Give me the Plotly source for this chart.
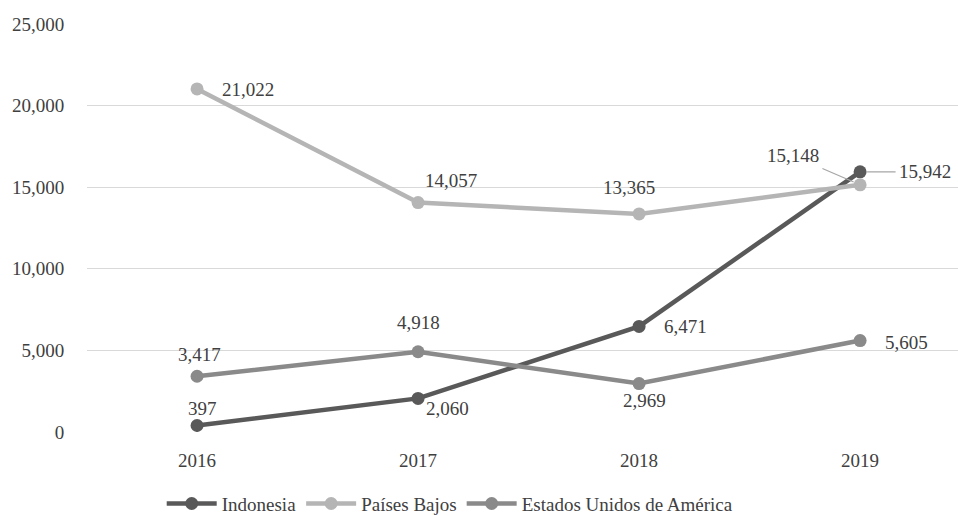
import plotly.graph_objects as go

years = ["2016", "2017", "2018", "2019"]
series_names = ["Indonesia", "Países Bajos", "Estados Unidos de América"]
indonesia = [397, 2060, 6471, 15942]
paises_bajos = [21022, 14057, 13365, 15148]
estados_unidos = [3417, 4918, 2969, 5605]
y_ticks = [0, 5000, 10000, 15000, 20000, 25000]

colors = ["#595959", "#b5b5b5", "#8a8a8a"]
values = [indonesia, paises_bajos, estados_unidos]

# label offsets in pixels (dx, dy up); "lead" -> leader-line annotation (ax, ay)
label_offsets = [
    [(5, 17), (29, -10), (46, 0), ("lead", 65, 0)],
    [(51, -1), (33, 22), (-10, 26), ("lead", -67, -29)],
    [(2, 22), (0, 29), (5, -17), (46, -2)],
]

FONT = "Liberation Serif"
TXT = "#404040"

fig = go.Figure()
for name, vals, col in zip(series_names, values, colors):
    fig.add_trace(go.Scatter(
        x=years, y=vals, name=name, mode="lines+markers",
        line=dict(color=col, width=4.5),
        marker=dict(color=col, size=13),
    ))

annotations = []
for vals, offs in zip(values, label_offsets):
    for i, (v, off) in enumerate(zip(vals, offs)):
        txt = f"{v:,}"
        if off[0] == "lead":
            annotations.append(dict(
                x=i, y=v, xref="x", yref="y", text=txt, showarrow=True,
                ax=off[1], ay=off[2], arrowhead=0, arrowwidth=1.2,
                arrowcolor="#a6a6a6", standoff=7, startstandoff=2,
                font=dict(family=FONT, size=19, color=TXT),
            ))
        else:
            annotations.append(dict(
                x=i, y=v, xref="x", yref="y", text=txt, showarrow=False,
                xshift=off[0], yshift=off[1],
                font=dict(family=FONT, size=19, color=TXT),
            ))

fig.update_layout(
    width=958, height=515,
    margin=dict(l=87, r=0, t=24, b=83, autoexpand=False),
    paper_bgcolor="white", plot_bgcolor="white",
    font=dict(family=FONT, size=19, color=TXT),
    showlegend=True,
    legend=dict(orientation="h", x=0.417, xanchor="center",
                yref="container", y=0.022, yanchor="middle",
                font=dict(family=FONT, size=19, color=TXT), itemwidth=50),
    annotations=annotations,
    xaxis=dict(type="category", range=[-0.498, 3.443], showgrid=False,
               showline=False, zeroline=False, ticks="outside", ticklen=11,
               tickcolor="rgba(0,0,0,0)"),
    yaxis=dict(range=[0, 25000], tickvals=y_ticks, tickformat=",",
               showgrid=True, gridcolor="#d9d9d9", gridwidth=1.3,
               zeroline=False, showline=False, ticks="outside", ticklen=18,
               tickcolor="rgba(0,0,0,0)"),
)

fig.write_html("out.html")
